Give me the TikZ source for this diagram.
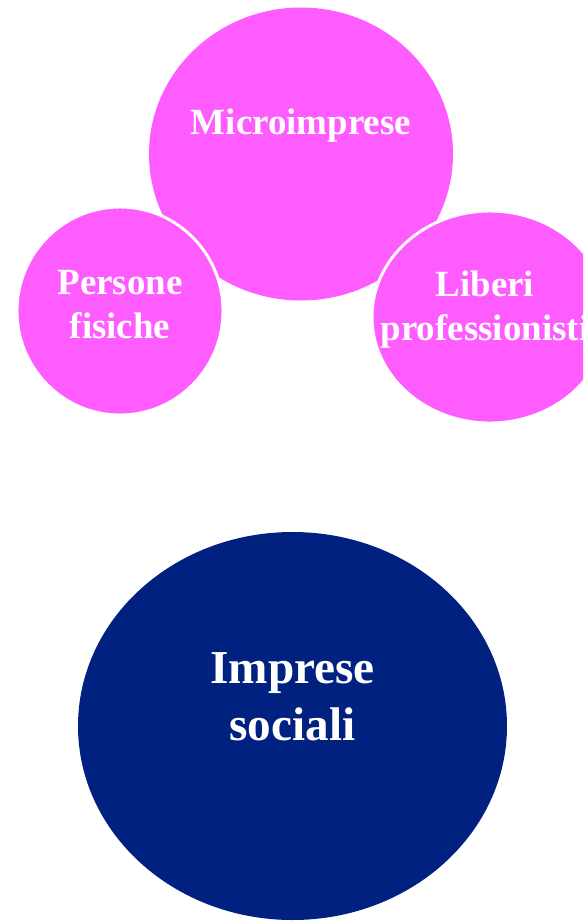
\documentclass[tikz,border=0pt]{standalone}
\usepackage{fontspec}
\setmainfont{Liberation Serif}
\usepackage{tikz}
\usetikzlibrary{shapes.geometric,positioning}
\usepackage{xcolor}
\definecolor{bubblepink}{RGB}{255,92,255}
\definecolor{socialblue}{RGB}{0,33,128}

\begin{document}
\begin{tikzpicture}[
    x=0.75pt, y=-0.75pt,
    bubble/.style={ellipse, fill=bubblepink, inner sep=0pt, draw=white, line width=2.2pt},
    bubbletext/.style={align=center, text=white, font=\fontsize{27.7}{33}\selectfont\bfseries},
    bigtext/.style={align=center, text=white, font=\fontsize{35.4}{43}\selectfont\bfseries}
]
    \useasboundingbox (0,0) rectangle (583,922);
    \clip (0,0) rectangle (583,922);
    \fill[white] (0,0) rectangle (583,922);
    \node[bubble, draw=none, minimum width=228pt, minimum height=219.75pt] (micro) at (301,154) {};
    \node[bubble, minimum width=154.5pt, minimum height=156pt] (persone) at (120,311) {};
    \node[bubble, minimum width=177pt, minimum height=159pt] (liberi) at (490,317) {};
    \node[ellipse, fill=socialblue, inner sep=0pt, minimum width=321.75pt, minimum height=291pt] (sociali) at (292.5,726) {};
    \node[bubbletext] (microtxt) at ([yshift=21pt]micro.center) {Microimprese};
    \node[bubbletext] (personetxt) at ([yshift=5pt]persone.center) {Persone\\fisiche};
    \node[bubbletext] (liberitxt) at (485,310) {Liberi\\professionisti};
    \node[bigtext] (socialitxt) at ([yshift=22pt]sociali.center) {Imprese\\sociali};
\end{tikzpicture}
\end{document}
